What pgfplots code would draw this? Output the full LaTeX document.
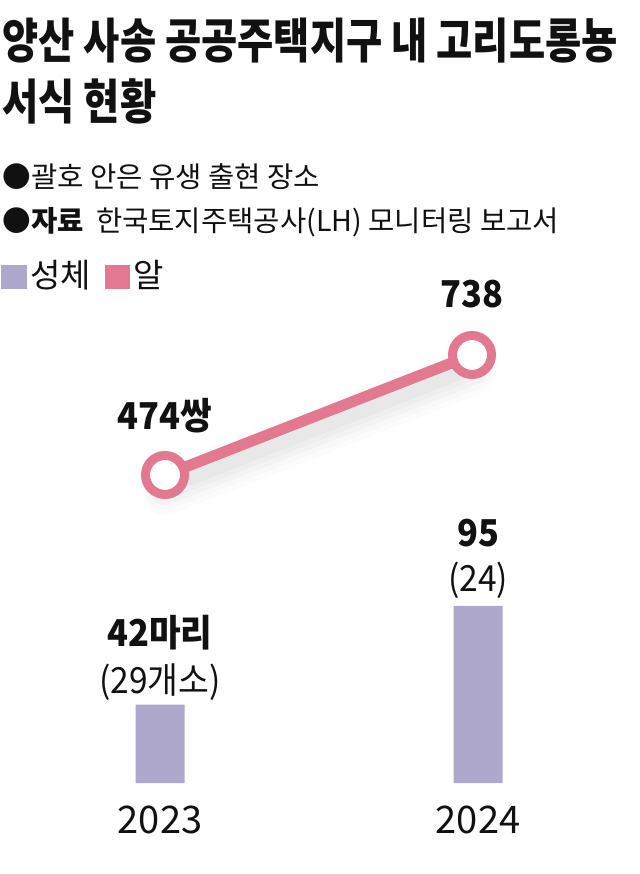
\documentclass[border=0pt]{standalone}
\usepackage{fontspec}
\usepackage{pgfplots}
\pgfplotsset{compat=1.18}
\setmainfont{Noto Sans CJK KR}
\newfontfamily\titlefont{Noto Sans CJK KR}[FakeStretch=0.82]
\newfontfamily\labfont{Noto Sans CJK KR}[FakeStretch=0.93]
\definecolor{lav}{RGB}{173,168,204}
\definecolor{pnk}{RGB}{226,121,144}
\definecolor{txt}{RGB}{17,17,17}
\begin{document}
\begin{tikzpicture}
\path[use as bounding box] (0,0) rectangle (320pt,437pt);
\begin{scope}[yshift=437pt,x=0.5pt,y=-0.5pt]
\node[anchor=base west,inner sep=0,text=txt,font=\titlefont\bfseries\fontsize{24}{28}\selectfont] at (2,59) {양산 사송 공공주택지구 내 고리도롱뇽};
\node[anchor=base west,inner sep=0,text=txt,font=\titlefont\bfseries\fontsize{24}{28}\selectfont] at (2,120) {서식 현황};
\node[anchor=base west,inner sep=0,text=txt,font=\fontsize{14.3}{17}\selectfont] at (2,188) {●괄호 안은 유생 출현 장소};
\node[anchor=base west,inner sep=0,text=txt,font=\fontsize{14.3}{17}\selectfont] at (2,232) {\textbf{●자료}\hspace{3pt} 한국토지주택공사(LH) 모니터링 보고서};
\fill[lav] (1,265) rectangle (27,289);
\node[anchor=base west,inner sep=0,text=txt,font=\fontsize{16.5}{19}\selectfont] at (30,288) {성체};
\fill[pnk] (105,265) rectangle (130,289);
\node[anchor=base west,inner sep=0,text=txt,font=\fontsize{16.5}{19}\selectfont] at (133,288) {알};
\end{scope}

\begin{axis}[at={(0.5pt,45.5pt)},anchor=south west,scale only axis,
  width=318pt,height=93.16pt,xmin=-0.5,xmax=1.5,ymin=0,ymax=100,
  hide axis,clip=false]
\addplot[ybar,bar width=24.5pt,fill=lav,draw=none] coordinates {(0,42) (1,95)};
\node[anchor=base,yshift=29pt,text=txt,font=\labfont\bfseries\fontsize{18.5}{22}\selectfont] at (axis cs:0,42) {42마리};
\node[anchor=base,yshift=5.5pt,text=txt,font=\labfont\fontsize{18}{22}\selectfont] at (axis cs:0,42) {(29개소)};
\node[anchor=base,yshift=29.5pt,text=txt,font=\labfont\bfseries\fontsize{18.5}{22}\selectfont] at (axis cs:1,95) {95};
\node[anchor=base,yshift=7pt,text=txt,font=\labfont\fontsize{18}{22}\selectfont] at (axis cs:1,95) {(24)};
\node[anchor=base,yshift=-25pt,text=txt,font=\fontsize{19}{22}\selectfont] at (axis cs:0,0) {2023};
\node[anchor=base,yshift=-25pt,text=txt,font=\fontsize{19}{22}\selectfont] at (axis cs:1,0) {2024};
\end{axis}

\begin{axis}[at={(5.75pt,182.7pt)},anchor=south west,scale only axis,
  width=307pt,height=90.9pt,xmin=-0.5,xmax=1.5,ymin=400,ymax=800,
  hide axis,clip=false]
\addplot[black,opacity=0.012,line width=24pt,line cap=round,yshift=-8pt,forget plot] coordinates {(0,474) (1,738)};
\addplot[black,opacity=0.015,line width=20pt,line cap=round,yshift=-7.5pt,forget plot] coordinates {(0,474) (1,738)};
\addplot[black,opacity=0.018,line width=16pt,line cap=round,yshift=-7pt,forget plot] coordinates {(0,474) (1,738)};
\addplot[black,opacity=0.02,line width=12pt,line cap=round,yshift=-6.5pt,forget plot] coordinates {(0,474) (1,738)};
\addplot[black,opacity=0.022,line width=8pt,line cap=round,yshift=-6pt,forget plot] coordinates {(0,474) (1,738)};
\addplot[pnk,line width=5.5pt,mark=*,mark size=9.75pt,
  mark options={fill=white,draw=pnk,line width=4.5pt}] coordinates {(0,474) (1,738)};
\node[anchor=base,yshift=22.5pt,text=txt,font=\labfont\bfseries\fontsize{18.5}{22}\selectfont] at (axis cs:0,474) {474쌍};
\node[anchor=base,yshift=23.5pt,text=txt,font=\labfont\bfseries\fontsize{18.5}{22}\selectfont] at (axis cs:1,738) {738};
\end{axis}
\end{tikzpicture}
\end{document}
